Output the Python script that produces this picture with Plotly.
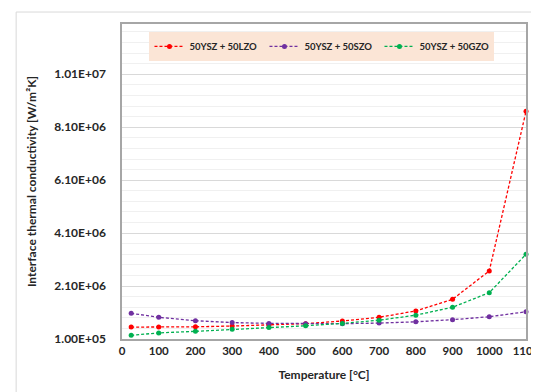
import plotly.graph_objects as go

temperature = [25, 100, 200, 300, 400, 500, 600, 700, 800, 900, 1000, 1100]
lzo = [0.55e6, 0.55e6, 0.56e6, 0.59e6, 0.63e6, 0.68e6, 0.78e6, 0.92e6, 1.16e6, 1.60e6, 2.67e6, 8.70e6]
szo = [1.07e6, 0.92e6, 0.79e6, 0.72e6, 0.69e6, 0.68e6, 0.68e6, 0.70e6, 0.75e6, 0.83e6, 0.94e6, 1.13e6]
gzo = [0.24e6, 0.33e6, 0.39e6, 0.47e6, 0.53e6, 0.60e6, 0.69e6, 0.81e6, 1.00e6, 1.30e6, 1.85e6, 3.30e6]

series_names = ["50YSZ + 50LZO", "50YSZ + 50SZO", "50YSZ + 50GZO"]
series_colors = ["#ff0000", "#7030a0", "#00b050"]

y_tickvals = [1.0e5, 2.1e6, 4.1e6, 6.1e6, 8.1e6, 1.01e7]
y_ticktext = ["1.00E+05", "2.10E+06", "4.10E+06", "6.10E+06", "8.10E+06", "1.01E+07"]
x_tickvals = [0, 100, 200, 300, 400, 500, 600, 700, 800, 900, 1000, 1100]

FONT = "Lato"
TXT = "#262626"

fig = go.Figure()
for name, vals, col in zip(series_names, [lzo, szo, gzo], series_colors):
    fig.add_trace(go.Scatter(
        x=temperature, y=vals, name=name, mode="lines+markers",
        line=dict(color=col, width=1.3, dash="3px,2px"),
        marker=dict(color=col, size=5, symbol="circle"),
        cliponaxis=False,
    ))

fig.update_layout(
    width=531, height=384,
    margin=dict(l=114, r=13, t=16, b=53),
    paper_bgcolor="white", plot_bgcolor="white",
    font=dict(family=FONT, color=TXT, size=12),
    showlegend=True,
    legend=dict(
        orientation="h", x=0.495, xanchor="center", y=0.975, yanchor="top",
        bgcolor="#fbe5d6", font=dict(family=FONT, size=9.5, color=TXT, weight="bold"),
        itemwidth=30, tracegroupgap=0, entrywidth=70,
    ),
    shapes=[dict(type="rect", xref="paper", yref="paper",
                 x0=-0.262, x1=1.05, y0=-0.2, y1=1.038,
                 line=dict(color="#d9d9d9", width=1), layer="below")],
)

fig.update_xaxes(
    range=[0, 1100], tickvals=x_tickvals, showgrid=False,
    showline=True, linecolor="#a6a6a6", linewidth=1.5, mirror=True,
    ticks="", automargin=False, ticklabeloverflow="allow",
    tickfont=dict(family=FONT, size=11.5, color=TXT, weight="bold"),
    title=dict(text="Temperature [°C]", font=dict(family=FONT, size=12, color=TXT, weight="bold")),
    zeroline=False,
)
fig.update_yaxes(
    range=[1.0e5, 1.2e7], tickvals=y_tickvals, ticktext=y_ticktext,
    showgrid=True, gridcolor="#d9d9d9", gridwidth=1,
    minor=dict(dtick=4.0e5, tick0=1.0e5, showgrid=True, gridcolor="#f0f0f0", gridwidth=1),
    showline=True, linecolor="#a6a6a6", linewidth=1.5, mirror=True,
    ticks="", ticklabelstandoff=12, automargin=False, ticklabeloverflow="allow",
    tickfont=dict(family=FONT, size=12, color=TXT, weight="bold"),
    title=dict(text="Interface thermal conductivity [W/m²K]", font=dict(family=FONT, size=12, color=TXT, weight="bold")),
    zeroline=False,
)

fig.write_html("out.html", post_script="document.body.style.overflow='hidden';")
